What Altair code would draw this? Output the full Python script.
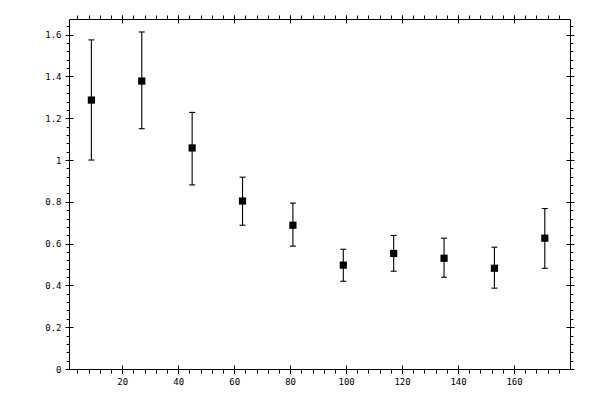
import altair as alt
import pandas as pd

# Data
x_vals = [9, 27, 45, 63, 81, 99, 117, 135, 153, 171]
y_vals = [1.287, 1.378, 1.058, 0.804, 0.688, 0.497, 0.553, 0.530, 0.482, 0.626]
y_lo = [1.000, 1.150, 0.881, 0.688, 0.588, 0.420, 0.468, 0.439, 0.387, 0.482]
y_hi = [1.575, 1.613, 1.228, 0.918, 0.794, 0.573, 0.639, 0.626, 0.583, 0.768]

x_major = [20, 40, 60, 80, 100, 120, 140, 160]
x_minor = list(range(4, 180, 4))
y_major = [0, 0.2, 0.4, 0.6, 0.8, 1.0, 1.2, 1.4, 1.6]
y_minor = [round(i * 0.04, 2) for i in range(0, 42)]

df = pd.DataFrame({"x": x_vals, "y": y_vals, "lo": y_lo, "hi": y_hi})

xs = alt.Scale(domain=[1, 180], nice=False, zero=False)
ys = alt.Scale(domain=[0, 1.675], nice=False, zero=False)

FONT = "DejaVu Sans Mono"


def ax(orient, values, tick_size, offset=0, labels=False, domain=False, fmt="~r"):
    return alt.Axis(
        orient=orient,
        values=values,
        tickSize=tick_size,
        offset=offset,
        labels=labels,
        domain=domain,
        grid=False,
        tickColor="black",
        tickWidth=1,
        domainColor="black",
        domainWidth=1,
        labelColor="black",
        labelFont=FONT,
        labelFontSize=9,
        labelPadding=4,
        format=fmt,
    )


base = alt.Chart(df)

rules = base.mark_rule(color="black", strokeWidth=1.1).encode(
    x=alt.X("x:Q", scale=xs, title=None,
            axis=ax("bottom", x_major, 4, labels=True, domain=True, fmt="d")),
    y=alt.Y("lo:Q", scale=ys, title=None,
            axis=ax("left", y_major, 4, labels=True, domain=True, fmt="~r")),
    y2="hi:Q",
)

caps_lo = base.mark_tick(color="black", orient="horizontal", size=6,
                         thickness=1.1, opacity=1).encode(
    x=alt.X("x:Q", scale=xs, title=None, axis=ax("bottom", x_major, 4, offset=-4)),
    y=alt.Y("lo:Q", scale=ys, title=None, axis=ax("left", y_major, 4, offset=-4)),
)

caps_hi = base.mark_tick(color="black", orient="horizontal", size=6,
                         thickness=1.1, opacity=1).encode(
    x=alt.X("x:Q", scale=xs, title=None, axis=ax("bottom", x_minor, 4)),
    y=alt.Y("hi:Q", scale=ys, title=None, axis=ax("left", y_minor, 3)),
)

points = base.mark_square(size=52, color="black", opacity=1).encode(
    x=alt.X("x:Q", scale=xs, title=None, axis=ax("top", x_major, 4, domain=True)),
    y=alt.Y("y:Q", scale=ys, title=None, axis=ax("right", y_major, 4, domain=True)),
)

inv1 = base.mark_point(opacity=0).encode(
    x=alt.X("x:Q", scale=xs, title=None, axis=ax("top", x_major, 4, offset=-4)),
    y=alt.Y("y:Q", scale=ys, title=None, axis=ax("right", y_major, 4, offset=-4)),
)

inv2 = base.mark_point(opacity=0).encode(
    x=alt.X("x:Q", scale=xs, title=None, axis=ax("top", x_minor, 4)),
    y=alt.Y("y:Q", scale=ys, title=None, axis=ax("right", y_minor, 3)),
)

chart = (
    alt.layer(rules, caps_lo, caps_hi, points, inv1, inv2)
    .resolve_axis(x="independent", y="independent")
    .properties(
        width=501,
        height=350,
        autosize=alt.AutoSizeParams(type="none"),
        padding={"left": 61, "top": 11, "right": 20, "bottom": 20},
        background="white",
    )
    .configure_view(stroke="transparent")
)

chart.save("out.html", embed_options={"renderer": "svg", "actions": False})
